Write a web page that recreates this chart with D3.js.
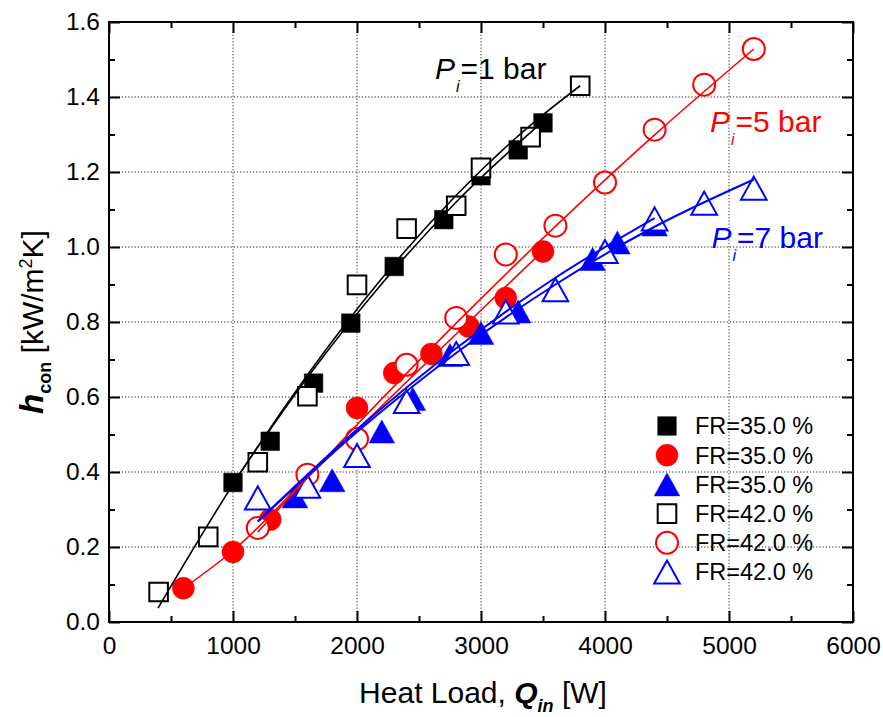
<!DOCTYPE html>
<html><head><meta charset="utf-8">
<script src="https://cdn.jsdelivr.net/npm/d3@7"></script>
<style>
html,body{margin:0;padding:0;background:#fff;}
text{font-family:Arial,"Liberation Sans",sans-serif;}
</style></head>
<body>
<svg id="chart" width="883" height="717"></svg>
<script>
// ---------------- data ----------------
const xTicks = [0,1000,2000,3000,4000,5000,6000];
const yTicks = [0,0.2,0.4,0.6,0.8,1.0,1.2,1.4,1.6];
const xMinorTicks = [500,1500,2500,3500,4500,5500];
const yMinorTicks = [0.1,0.3,0.5,0.7,0.9,1.1,1.3,1.5];

// Pi = 1 bar
const qP1FR35 = [1000,1300,1650,1950,2300,2700,3000,3300,3500];
const hP1FR35 = [0.372,0.482,0.637,0.797,0.948,1.073,1.19,1.259,1.331];
const qP1FR42 = [400,800,1200,1600,2000,2400,2800,3000,3400,3800];
const hP1FR42 = [0.08,0.227,0.426,0.602,0.899,1.049,1.11,1.211,1.293,1.43];
// Pi = 5 bar
const qP5FR35 = [600,1000,1300,2000,2300,2600,2900,3200,3500];
const hP5FR35 = [0.09,0.187,0.273,0.571,0.664,0.715,0.788,0.864,0.988];
const qP5FR42 = [1200,1600,2000,2400,2800,3200,3600,4000,4400,4800,5200];
const hP5FR42 = [0.251,0.393,0.488,0.686,0.811,0.98,1.057,1.172,1.313,1.433,1.528];
// Pi = 7 bar
const qP7FR35 = [1500,1800,2200,2450,2750,3000,3300,3900,4100,4400];
const hP7FR35 = [0.335,0.378,0.508,0.595,0.712,0.771,0.828,0.968,1.012,1.06];
const qP7FR42 = [1200,1600,2000,2400,2800,3200,3600,4000,4400,4800,5200];
const hP7FR42 = [0.331,0.362,0.444,0.588,0.716,0.827,0.886,0.988,1.075,1.117,1.157];

// fitted curves, points
const fitQP1FR35 = [1000,1600,2200,2800,3500];
const fitHP1FR35 = [0.37,0.652,0.902,1.12,1.335];
const fitQP1FR42 = [395,1000,1600,2200,2800,3400,3800];
const fitHP1FR42 = [0.037,0.367,0.659,0.916,1.138,1.325,1.43];
const fitQP5FR35 = [600,1000,1600,2200,2800,3500];
const fitHP5FR35 = [0.09,0.19,0.385,0.576,0.768,0.99];
const fitQP5FR42 = [1200,2000,2800,3600,4400,5200];
const fitHP5FR42 = [0.24,0.526,0.797,1.055,1.299,1.528];
const fitQP7FR35 = [1200,2000,2800,3600,4400];
const fitHP7FR35 = [0.268,0.5135,0.73,0.918,1.077];
const fitQP7FR42 = [1200,2000,2800,3600,4400,5200];
const fitHP7FR42 = [0.268,0.507,0.7175,0.90,1.054,1.18];

const legendLabels = ["FR=35.0 %","FR=35.0 %","FR=35.0 %","FR=42.0 %","FR=42.0 %","FR=42.0 %"];

// ---------------- drawing ----------------
const svg = d3.select("#chart");
const L=109, R=853, T=22, B=622;
const x = d3.scaleLinear().domain([0,6000]).range([L,R]);
const y = d3.scaleLinear().domain([0,1.6]).range([B,T]);

const zip = (a,b)=>a.map((v,i)=>[v,b[i]]);

// grid
const grid = svg.append("g").attr("stroke","#222").attr("stroke-width",1).attr("stroke-dasharray","1.2,2");
grid.selectAll("line.gx").data(xTicks.slice(1,-1)).join("line")
  .attr("x1",d=>x(d)).attr("x2",d=>x(d)).attr("y1",T).attr("y2",B);
grid.selectAll("line.gy").data(yTicks.slice(1,-1)).join("line")
  .attr("y1",d=>y(d)).attr("y2",d=>y(d)).attr("x1",L).attr("x2",R);

// axes
function styleAxis(g){ g.select(".domain").remove(); g.selectAll(".tick line").attr("stroke","#000").attr("stroke-width",2); }
const fs = "24.5px";
svg.append("g").attr("transform",`translate(0,${B})`)
  .call(d3.axisBottom(x).tickValues(xTicks).tickSize(-11).tickPadding(15).tickFormat(d3.format("d")))
  .call(styleAxis).selectAll("text").attr("font-size",fs).attr("fill","#000");
svg.append("g").attr("transform",`translate(0,${B})`)
  .call(d3.axisBottom(x).tickValues(xMinorTicks).tickSize(-6).tickFormat("")).call(styleAxis);
svg.append("g").attr("transform",`translate(0,${T})`)
  .call(d3.axisTop(x).tickValues(xTicks).tickSize(-11).tickFormat("")).call(styleAxis);
svg.append("g").attr("transform",`translate(0,${T})`)
  .call(d3.axisTop(x).tickValues(xMinorTicks).tickSize(-6).tickFormat("")).call(styleAxis);
svg.append("g").attr("transform",`translate(${L},0)`)
  .call(d3.axisLeft(y).tickValues(yTicks).tickSize(-11).tickPadding(9).tickFormat(d3.format(".1f")))
  .call(styleAxis).selectAll("text").attr("font-size",fs).attr("fill","#000");
svg.append("g").attr("transform",`translate(${L},0)`)
  .call(d3.axisLeft(y).tickValues(yMinorTicks).tickSize(-6).tickFormat("")).call(styleAxis);
svg.append("g").attr("transform",`translate(${R},0)`)
  .call(d3.axisRight(y).tickValues(yTicks).tickSize(-11).tickFormat("")).call(styleAxis);
svg.append("g").attr("transform",`translate(${R},0)`)
  .call(d3.axisRight(y).tickValues(yMinorTicks).tickSize(-6).tickFormat("")).call(styleAxis);

// frame
svg.append("rect").attr("x",L).attr("y",T).attr("width",R-L).attr("height",B-T)
  .attr("fill","none").attr("stroke","#000").attr("stroke-width",2);

// markers
function markerPath(shape){
  if(shape==="square"){ const s=9.3; return `M${-s},${-s}H${s}V${s}H${-s}Z`; }
  if(shape==="circle"){ const r=11; return `M${r},0A${r},${r} 0 1,1 ${-r},0A${r},${r} 0 1,1 ${r},0Z`; }
  const w=12.8, h=11.5; return `M0,${-h}L${w},${h}L${-w},${h}Z`;
}
const series = [
  {q:qP1FR35,h:hP1FR35,shape:"square",color:"#000",filled:true},
  {q:qP5FR35,h:hP5FR35,shape:"circle",color:"#ff0000",filled:true},
  {q:qP7FR35,h:hP7FR35,shape:"triangle",color:"#0000ff",filled:true},
  {q:qP1FR42,h:hP1FR42,shape:"square",color:"#000",filled:false},
  {q:qP5FR42,h:hP5FR42,shape:"circle",color:"#ff0000",filled:false},
  {q:qP7FR42,h:hP7FR42,shape:"triangle",color:"#0000ff",filled:false}
];
series.forEach(s=>{
  svg.append("g").selectAll("path").data(zip(s.q,s.h)).join("path")
    .attr("d",markerPath(s.shape))
    .attr("transform",d=>`translate(${x(d[0])},${y(d[1])})`)
    .attr("fill",s.filled?s.color:"#fff")
    .attr("stroke",s.color).attr("stroke-width",s.filled?0.5:2);
});

// fit lines
const fits = [
  {q:fitQP1FR35,h:fitHP1FR35,color:"#000",w:1.6},
  {q:fitQP1FR42,h:fitHP1FR42,color:"#000",w:1.6},
  {q:fitQP5FR35,h:fitHP5FR35,color:"#ff0000",w:1.6},
  {q:fitQP5FR42,h:fitHP5FR42,color:"#ff0000",w:1.6},
  {q:fitQP7FR35,h:fitHP7FR35,color:"#0000ff",w:2},
  {q:fitQP7FR42,h:fitHP7FR42,color:"#0000ff",w:2}
];
const line = d3.line().x(d=>x(d[0])).y(d=>y(d[1])).curve(d3.curveMonotoneX);
fits.forEach(f=>{
  svg.append("path").attr("d",line(zip(f.q,f.h))).attr("fill","none")
    .attr("stroke",f.color).attr("stroke-width",f.w);
});

// annotations
function piLabel(px,py,val,color){
  const t = svg.append("text").attr("x",px).attr("y",py).attr("fill",color).attr("font-size","30px");
  t.append("tspan").attr("font-style","italic").text("P");
  t.append("tspan").attr("font-style","italic").attr("font-size","16px").attr("dx",1).attr("dy",13).text("i");
  t.append("tspan").attr("dx",1).attr("dy",-13).text("=" + val + " bar");
}
piLabel(435,79,1,"#000");
piLabel(710,131.5,5,"#ff0000");
piLabel(711.5,248,7,"#0000ff");

// legend
const lg = svg.append("g");
series.forEach((s,i)=>{
  const cy = 426 + i*29.2;
  lg.append("path").attr("d",markerPath(s.shape)).attr("transform",`translate(667,${cy})`)
    .attr("fill",s.filled?s.color:"#fff").attr("stroke",s.color).attr("stroke-width",s.filled?0.5:2);
  lg.append("text").attr("x",695).attr("y",cy).attr("dy","0.36em").attr("font-size","23.5px")
    .attr("fill","#000").text(legendLabels[i]);
});

// axis titles
const xt = svg.append("text").attr("x",483).attr("y",703).attr("text-anchor","middle").attr("font-size","30px").attr("fill","#000");
xt.append("tspan").text("Heat Load, ");
xt.append("tspan").attr("font-weight","bold").attr("font-style","italic").text("Q");
xt.append("tspan").attr("font-weight","bold").attr("font-style","italic").attr("font-size","18px").attr("dy",9).text("in");
xt.append("tspan").attr("dy",-9).text(" [W]");

const yt = svg.append("text").attr("transform","translate(43,322) rotate(-90)").attr("text-anchor","middle")
  .attr("font-size","30px").attr("fill","#000");
yt.append("tspan").attr("font-weight","bold").attr("font-style","italic").attr("font-size","33px").text("h");
yt.append("tspan").attr("font-weight","bold").attr("font-size","18px").attr("dy",8).text("con");
yt.append("tspan").attr("dy",-8).text(" [kW/m");
yt.append("tspan").attr("font-size","18px").attr("dy",-11).text("2");
yt.append("tspan").attr("dy",11).text("K]");
</script>
</body></html>
